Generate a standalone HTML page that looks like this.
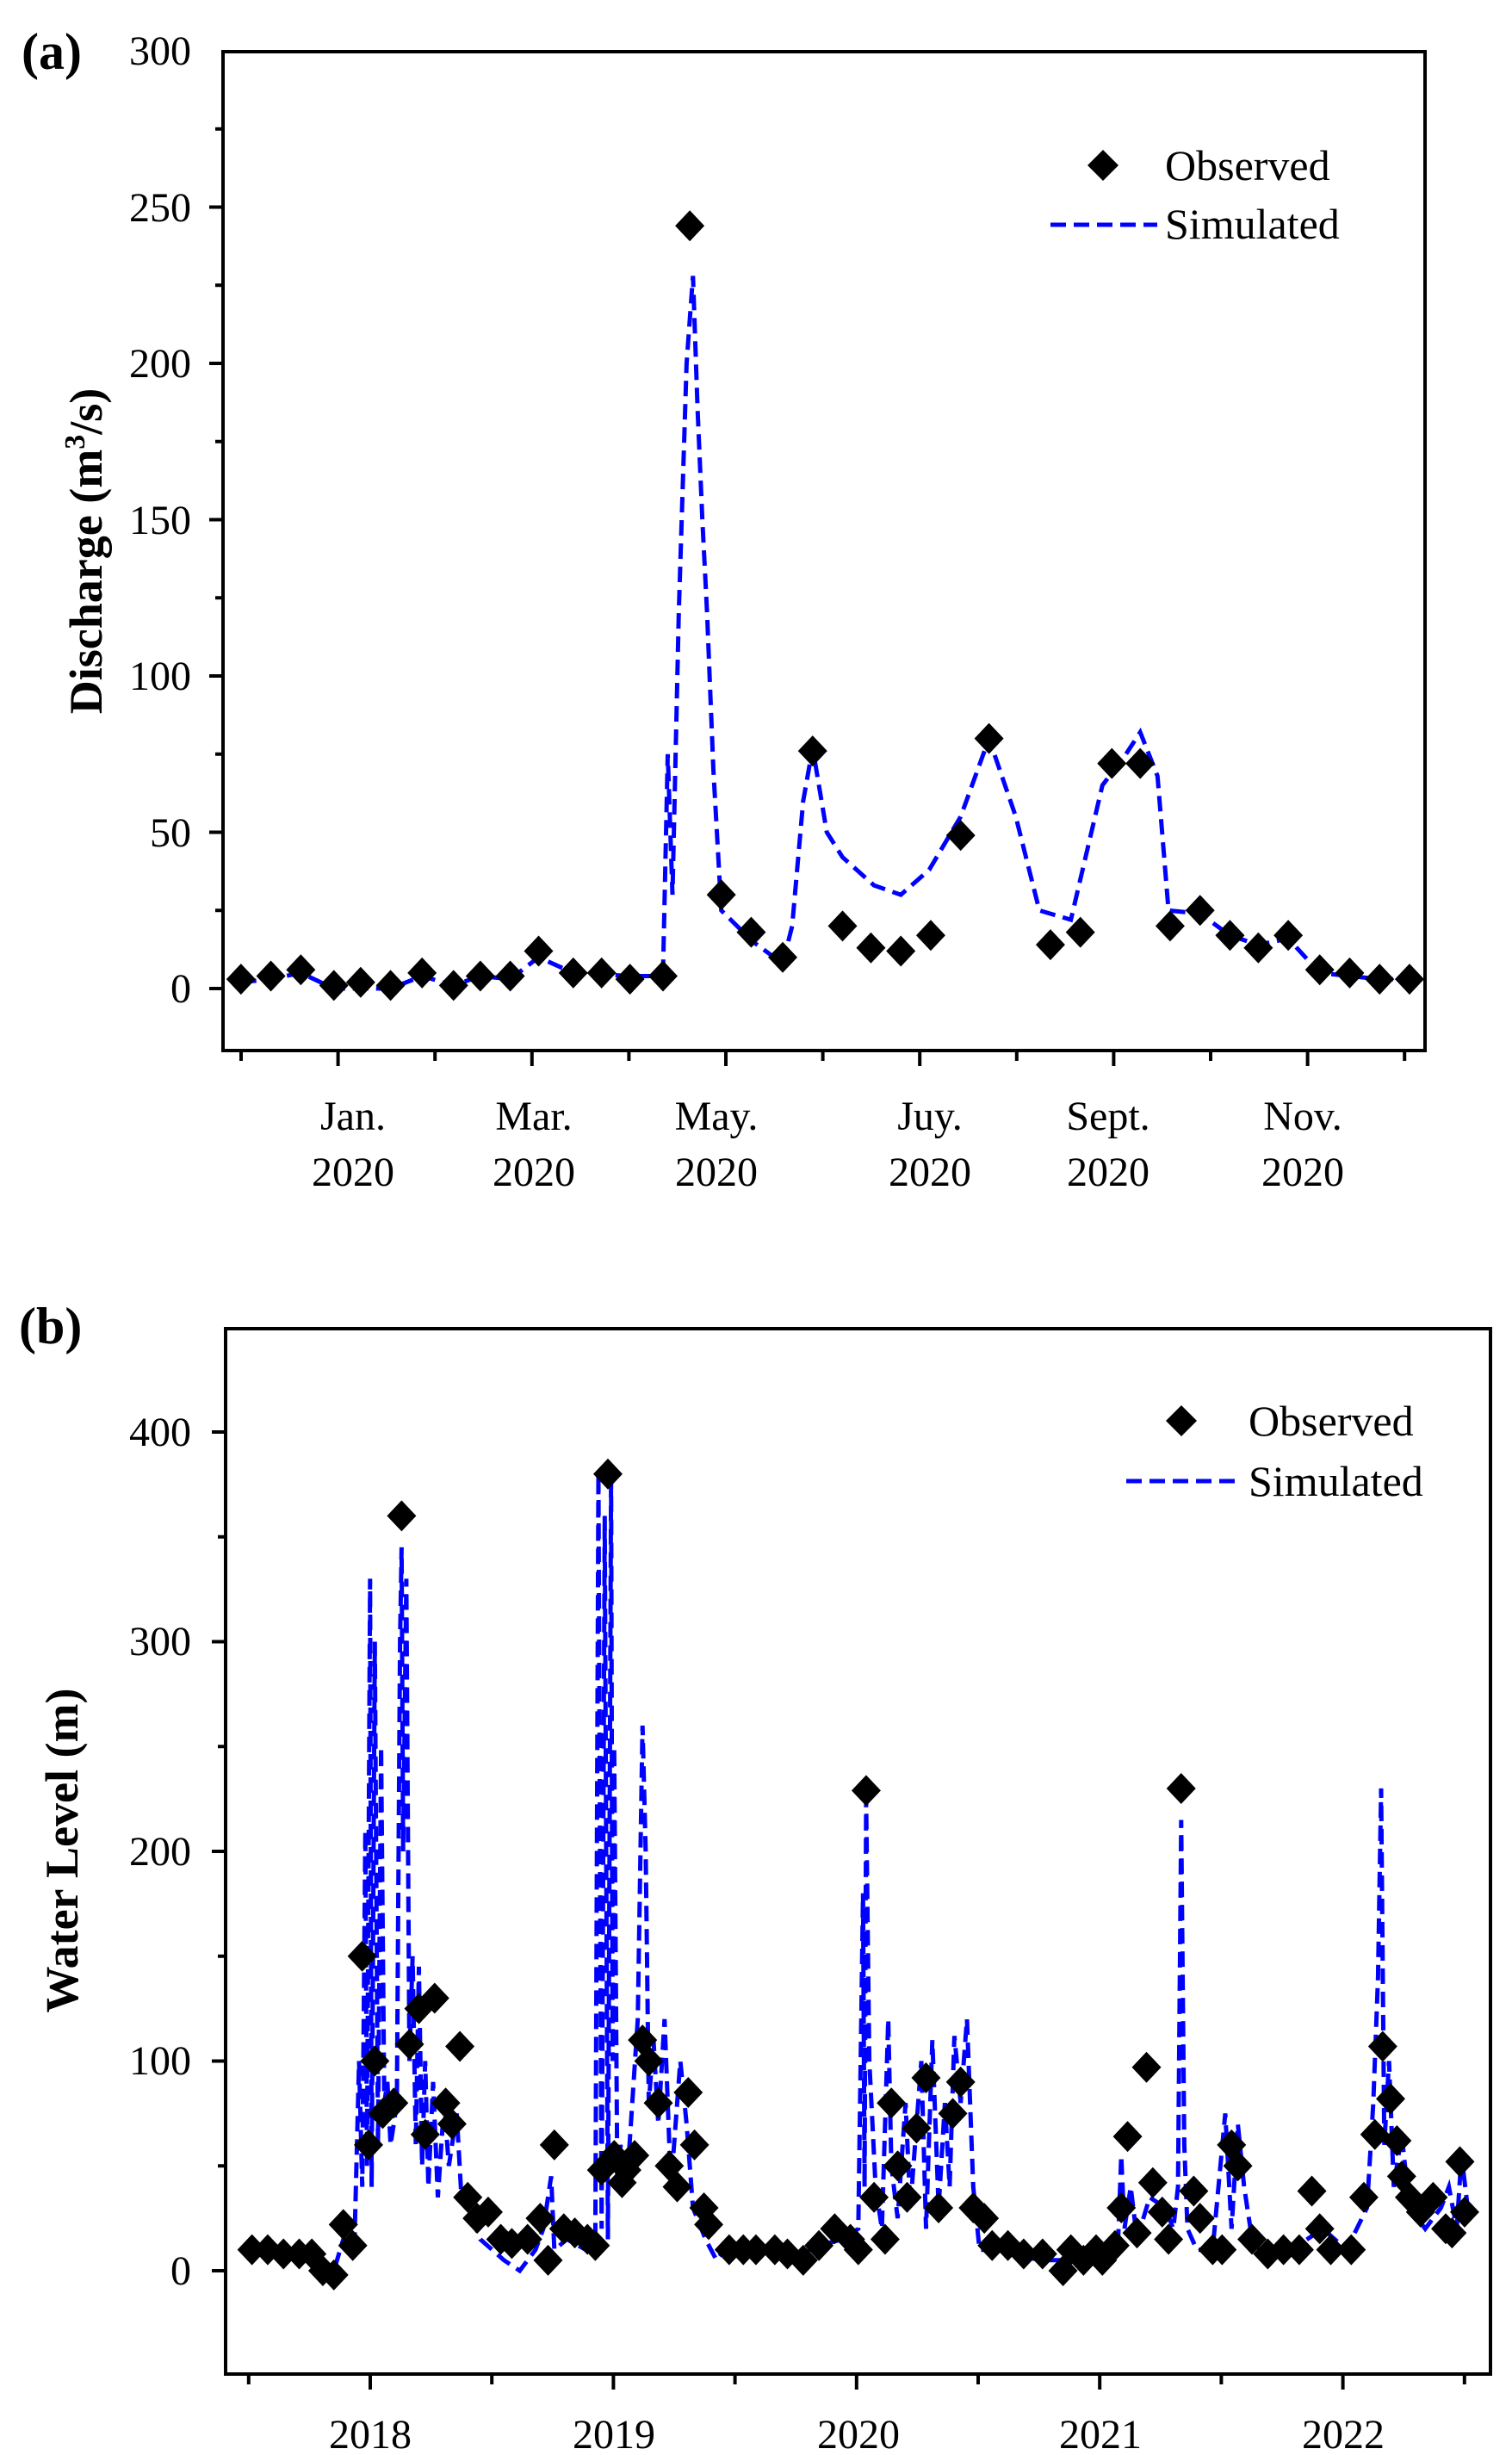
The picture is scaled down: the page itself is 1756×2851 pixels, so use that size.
<!DOCTYPE html>
<html><head><meta charset="utf-8"><style>
html,body{margin:0;padding:0;background:#fff;}
svg{display:block;}
text{font-family:"Liberation Serif",serif;fill:#000;}
</style></head><body>
<svg id="s" width="1756" height="2851" viewBox="0 0 1756 2851" xmlns="http://www.w3.org/2000/svg">
<rect width="1756" height="2851" fill="#fff"/>
<text x="25" y="80" font-size="60" font-weight="bold">(a)</text>
<g font-size="48" text-anchor="end">
<text x="222" y="75">300</text><text x="222" y="257">250</text><text x="222" y="438">200</text>
<text x="222" y="620">150</text><text x="222" y="801">100</text><text x="222" y="983">50</text><text x="222" y="1164">0</text>
</g>
<text transform="translate(118,640) rotate(-90)" font-size="54" font-weight="bold" text-anchor="middle">Discharge (m<tspan font-size="34" dy="-20">3</tspan><tspan dy="20">/s)</tspan></text>
<g font-size="48" text-anchor="middle">
<text x="410" y="1312">Jan.</text><text x="410" y="1377">2020</text>
<text x="620" y="1312">Mar.</text><text x="620" y="1377">2020</text>
<text x="832" y="1312">May.</text><text x="832" y="1377">2020</text>
<text x="1080" y="1312">Juy.</text><text x="1080" y="1377">2020</text>
<text x="1287" y="1312">Sept.</text><text x="1287" y="1377">2020</text>
<text x="1513" y="1312">Nov.</text><text x="1513" y="1377">2020</text>
</g>
<g font-size="50">
<text x="1353" y="209">Observed</text><text x="1353" y="277">Simulated</text>
</g>
<path d="M1281 174 L1299 192 L1281 210 L1263 192 Z" fill="#000"/>
<line x1="1220" y1="261" x2="1344" y2="261" stroke="#0000ff" stroke-width="5" stroke-dasharray="18 9"/>
<text x="22" y="1560" font-size="60" font-weight="bold">(b)</text>
<g font-size="48" text-anchor="end">
<text x="222" y="1679">400</text><text x="222" y="1922">300</text><text x="222" y="2166">200</text>
<text x="222" y="2409">100</text><text x="222" y="2653">0</text>
</g>
<text transform="translate(90,2149) rotate(-90)" font-size="54" font-weight="bold" text-anchor="middle">Water Level (m)</text>
<g font-size="48" text-anchor="middle">
<text x="430" y="2843">2018</text><text x="713" y="2843">2019</text><text x="997" y="2843">2020</text>
<text x="1278" y="2843">2021</text><text x="1560" y="2843">2022</text>
</g>
<g font-size="50">
<text x="1450" y="1667">Observed</text><text x="1450" y="1737">Simulated</text>
</g>
<path d="M1372 1632 L1390 1650 L1372 1668 L1354 1650 Z" fill="#000"/>
<line x1="1308" y1="1720" x2="1436" y2="1720" stroke="#0000ff" stroke-width="5" stroke-dasharray="18 9"/>
<g id="dyn"></g>
<rect x="259" y="60" width="1396" height="1160" fill="none" stroke="#000" stroke-width="4"/>
<rect x="262" y="1543" width="1469" height="1214" fill="none" stroke="#000" stroke-width="4"/>
</svg>
<script>
var g=document.getElementById('dyn'),h='';
var K=1.829;
function ax(v){return 1148-v*3.63;} function bx(v){return 2637-v*2.435;}
for(var v=-25;v<=300;v+=25){var y=ax(v);if(y<60||y>1220)continue;var L=(v%50==0)?16:9;h+='<line x1="'+(259-L)+'" y1="'+y+'" x2="259" y2="'+y+'" stroke="#000" stroke-width="4"/>';}
for(var m=0;m<13;m++){var x=280+112.6*m;var L=(m%2==1)?18:12;h+='<line x1="'+x+'" y1="1220" x2="'+x+'" y2="'+(1220+L)+'" stroke="#000" stroke-width="4"/>';}
for(var v=-50;v<=450;v+=50){var y=bx(v);if(y<1543||y>2757)continue;var L=(v%100==0)?16:9;h+='<line x1="'+(262-L)+'" y1="'+y+'" x2="262" y2="'+y+'" stroke="#000" stroke-width="4"/>';}
for(var k=-1;k<10;k++){var x=430+141.2*k;if(x<280||x>1710)continue;var L=(k%2==0)?18:12;h+='<line x1="'+x+'" y1="2757" x2="'+x+'" y2="'+(2757+L)+'" stroke="#000" stroke-width="4"/>';}
var simA=[[153,2],[172,3],[191,5],[212,0],[230,0],[248,0],[268,4],[288,1],[305,4],[324,3],[342,10],[364,5],[400,4],[418,4],[421,5],[424,75],[427,30],[431,120],[436,200],[440,228],[443,185],[446,150],[449,120],[453,70],[458,25],[478,15],[497,8],[503,20],[510,60],[516,77],[525,50],[535,42],[555,33],[572,30],[590,38],[610,55],[628,80],[645,55],[660,25],[680,22],[700,65],[715,75],[724,82],[735,68],[742,25],[762,24],[781,17],[799,14],[818,16],[838,5],[857,4],[876,3],[895,3]];
var obsA=[[153,3],[172,4],[191,6],[212,1],[229,2],[248,1],[268,5],[288,1],[305,4],[324,4],[342,12],[364,5],[382,5],[400,3],[421,4],[438,244],[458,30],[477,18],[497,10],[516,76],[535,20],[553,13],[572,12],[591,17],[610,49],[628,80],[667,14],[686,18],[706,72],[724,72],[743,20],[762,25],[781,17],[799,13],[818,17],[838,6],[857,5],[876,3],[895,3]];
var simB=[[160,12],[180,8],[200,8],[212,0],[218,15],[225,10],[228,100],[230,40],[232,210],[233,50],[235,330],[236,40],[238,300],[240,60],[242,250],[244,80],[246,90],[248,60],[250,70],[252,80],[254,300],[255,345],[256,200],[258,330],[260,100],[262,150],[264,60],[266,145],[268,50],[270,100],[272,40],[275,90],[278,35],[282,80],[285,50],[290,75],[293,35],[297,30],[305,15],[320,5],[330,0],[340,10],[345,20],[350,45],[352,10],[360,15],[372,10],[378,15],[380,380],[382,20],[384,360],[386,15],[388,380],[389,100],[390,250],[392,40],[394,60],[398,40],[405,120],[408,260],[410,200],[412,80],[415,110],[418,70],[422,120],[426,40],[432,100],[436,70],[440,30],[448,15],[455,5],[462,12],[475,12],[490,8],[500,5],[520,12],[535,15],[545,20],[548,180],[549,40],[550,225],[552,100],[556,40],[560,20],[564,120],[566,50],[570,25],[575,80],[578,30],[585,100],[588,20],[592,110],[596,30],[600,80],[603,40],[606,112],[610,80],[614,120],[618,40],[622,10],[635,10],[660,5],[690,5],[700,10],[710,15],[712,55],[714,20],[718,40],[722,15],[730,35],[740,30],[745,20],[748,40],[750,215],[752,60],[754,20],[760,10],[770,10],[778,75],[782,20],[786,70],[790,40],[795,15],[805,5],[820,10],[840,20],[855,10],[868,30],[872,80],[875,140],[877,230],[879,60],[882,100],[885,40],[890,65],[895,30],[905,20],[915,30],[920,40],[925,20],[928,55],[932,30]];
var obsB=[[160,10],[170,10],[180,8],[190,8],[198,8],[205,0],[212,-2],[218,22],[224,12],[230,150],[234,60],[238,100],[243,75],[250,80],[255,360],[260,108],[266,125],[270,65],[276,130],[283,80],[287,70],[292,107],[297,35],[303,25],[310,28],[318,15],[325,13],[335,15],[343,25],[348,5],[352,60],[358,20],[365,18],[373,15],[378,12],[382,48],[386,380],[390,55],[395,42],[398,48],[403,55],[408,110],[412,100],[418,80],[425,50],[430,40],[437,85],[441,60],[447,30],[450,22],[463,10],[472,10],[480,10],[492,10],[500,8],[510,5],[520,12],[530,20],[540,15],[545,10],[550,229],[555,35],[562,15],[566,80],[570,50],[576,35],[582,68],[588,92],[596,30],[605,75],[610,90],[618,30],[625,25],[630,12],[640,12],[650,8],[662,8],[675,0],[680,10],[688,5],[696,10],[700,5],[708,12],[712,30],[716,64],[722,18],[728,97],[732,42],[738,28],[742,15],[750,230],[758,38],[762,25],[770,10],[776,10],[782,60],[786,50],[795,15],[805,8],[815,10],[825,10],[833,38],[838,20],[845,10],[858,10],[866,35],[873,65],[878,107],[883,82],[887,62],[890,45],[895,35],[902,28],[910,35],[918,20],[922,18],[927,52],[930,28]];
function line(d,f){return '<polyline fill="none" stroke="#0000ff" stroke-width="5" stroke-dasharray="18 9" points="'+d.map(function(p){return (p[0]*K).toFixed(1)+','+f(p[1]).toFixed(1);}).join(' ')+'"/>';}
function dia(d,f){return d.map(function(p){var x=p[0]*K,y=f(p[1]);return '<path d="M'+x+' '+(y-18)+'L'+(x+17)+' '+y+'L'+x+' '+(y+18)+'L'+(x-17)+' '+y+'Z" fill="#000"/>';}).join('');}
h+=line(simA,ax)+dia(obsA,ax)+line(simB,bx)+dia(obsB,bx);
g.innerHTML=h;
</script>
</body></html>
